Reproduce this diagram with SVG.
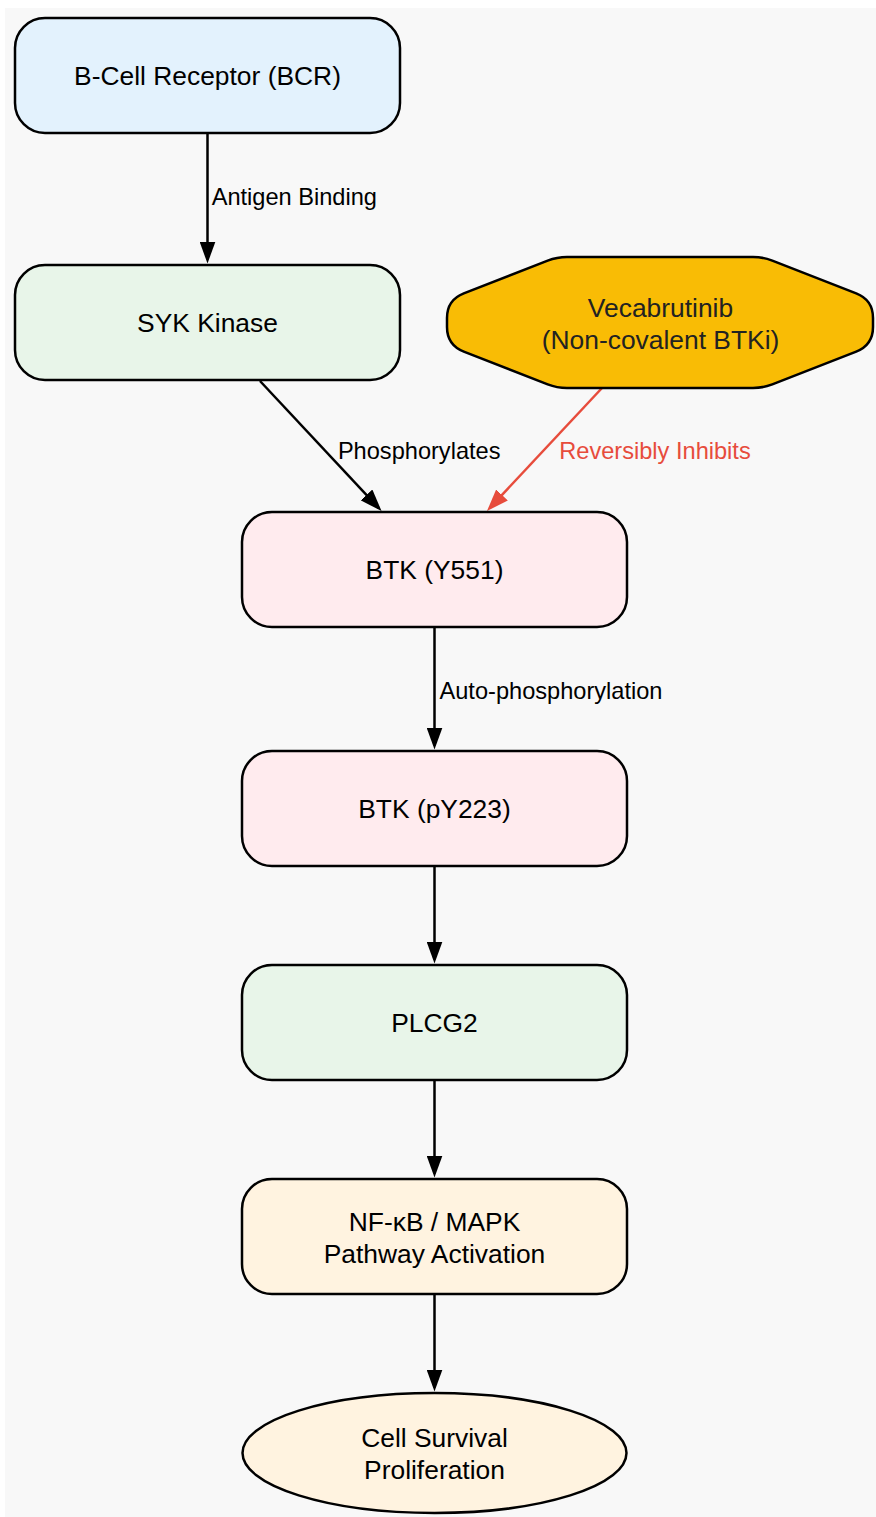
<svg xmlns="http://www.w3.org/2000/svg" width="876" height="1517" viewBox="0 0 876 1517">
<defs>
<style>
.node{stroke:#000;stroke-width:2.5}
.nt{font-family:"Liberation Sans",Arial,sans-serif;font-size:26.4px;fill:#000;text-anchor:middle}
.lbl{font-family:"Liberation Sans",Arial,sans-serif;font-size:23.6px;fill:#000;text-anchor:middle}
.edge{fill:none;stroke:#000;stroke-width:2.5}
.red{stroke:#e74c3c}
</style>
<marker id="ah" markerUnits="userSpaceOnUse" markerWidth="22" markerHeight="16" refX="18" refY="8" orient="auto">
<path d="M0,0 L22,8 L0,16 z" fill="#000"/>
</marker>
<marker id="ahr" markerUnits="userSpaceOnUse" markerWidth="22" markerHeight="16" refX="18" refY="8" orient="auto">
<path d="M0,0 L22,8 L0,16 z" fill="#e74c3c"/>
</marker>
</defs>
<rect x="5" y="8" width="871" height="1509" fill="#f8f8f8"/>
<g id="connectors">
<path class="edge" d="M207.5,134 L207.5,259.5" marker-end="url(#ah)"/>
<path class="edge" d="M260,381 L378.8,508.1" marker-end="url(#ah)"/>
<path class="edge red" d="M602,388 L489.7,508.1" marker-end="url(#ahr)"/>
<path class="edge" d="M434.5,628 L434.5,745.5" marker-end="url(#ah)"/>
<path class="edge" d="M434.5,867 L434.5,959.5" marker-end="url(#ah)"/>
<path class="edge" d="M434.5,1081 L434.5,1173.5" marker-end="url(#ah)"/>
<path class="edge" d="M434.5,1295 L434.5,1387.5" marker-end="url(#ah)"/>
<text class="lbl" x="294.3" y="205">Antigen Binding</text>
<text class="lbl" x="419.2" y="458.5">Phosphorylates</text>
<text class="lbl" x="655" y="459" style="fill:#e74c3c">Reversibly Inhibits</text>
<text class="lbl" x="551" y="698.5">Auto-phosphorylation</text>
</g>
<g id="bcr">
<rect class="node" x="15" y="18" width="385" height="115" rx="30" fill="#e3f2fd"/>
<text class="nt" x="207.5" y="85">B-Cell Receptor (BCR)</text>
</g>
<g id="syk">
<rect class="node" x="15" y="265" width="385" height="115" rx="30" fill="#e8f5e9"/>
<text class="nt" x="207.5" y="332">SYK Kinase</text>
</g>
<g id="vecabrutinib">
<path class="node" fill="#f9bc05" d="M567,257 L753,257 Q763,257 772.3,260.6 L856.2,293.4 Q873,300 873,318 L873,327 Q873,345 856.2,351.6 L772.3,384.4 Q763,388 753,388 L567,388 Q557,388 547.7,384.4 L463.8,351.6 Q447,345 447,327 L447,318 Q447,300 463.8,293.4 L547.7,260.6 Q557,257 567,257 Z"/>
<text class="nt" x="660.5" y="316.5" style="fill:#222">Vecabrutinib</text>
<text class="nt" x="660.5" y="348.5" style="fill:#222">(Non-covalent BTKi)</text>
</g>
<g id="btk_y551">
<rect class="node" x="242" y="512" width="385" height="115" rx="30" fill="#ffebee"/>
<text class="nt" x="434.5" y="579">BTK (Y551)</text>
</g>
<g id="btk_py223">
<rect class="node" x="242" y="751" width="385" height="115" rx="30" fill="#ffebee"/>
<text class="nt" x="434.5" y="818">BTK (pY223)</text>
</g>
<g id="plcg2">
<rect class="node" x="242" y="965" width="385" height="115" rx="30" fill="#e8f5e9"/>
<text class="nt" x="434.5" y="1032">PLCG2</text>
</g>
<g id="nfkb">
<rect class="node" x="242" y="1179" width="385" height="115" rx="30" fill="#fff3e0"/>
<text class="nt" x="434.5" y="1230.5">NF-κB / MAPK</text>
<text class="nt" x="434.5" y="1262.5">Pathway Activation</text>
</g>
<g id="survival">
<ellipse class="node" cx="434.5" cy="1453" rx="192" ry="60" fill="#fff3e0"/>
<text class="nt" x="434.5" y="1447">Cell Survival</text>
<text class="nt" x="434.5" y="1479">Proliferation</text>
</g>
</svg>
